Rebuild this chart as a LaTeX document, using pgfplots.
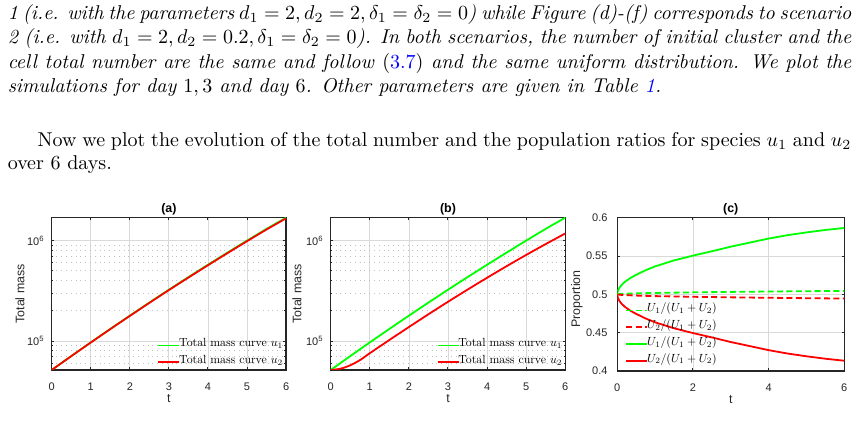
\documentclass[border=0pt]{standalone}
\usepackage{fontspec}
\usepackage{xcolor}
\usepackage{graphicx}
\usepackage{pgfplots}
\pgfplotsset{compat=1.18}
\newfontfamily\arial{Liberation Sans}
\definecolor{mg}{rgb}{0,1,0}
\definecolor{mr}{rgb}{1,0,0}
\definecolor{axc}{rgb}{0.15,0.15,0.15}

\pgfplotstableread{
t v
0 51640
0.5 70958
1 97051
1.5 132130
2 179061
2.5 241546
3 324340
3.5 432514
4 574116
4.5 758578
5 997700
5.5 1306171
6 1686553
}\greenA
\pgfplotstableread{
t v
0 51640
0.5 70866
1 96789
1.5 131602
2 178112
2.5 239928
3 321745
3.5 428492
4 567973
4.5 749475
5 984431
5.5 1286970
6 1659568
}\redA
\pgfplotstableread{
t v
0 51640
0.25 53200
0.5 57500
0.75 64800
1 75858
1.5 102565
2 138038
2.5 184927
3 246037
3.5 325087
4 426580
4.5 555904
5 719449
5.5 922571
6 1174898
}\redB
\pgfplotstableread{
t v
0 0.5
0.005 0.5025
0.02 0.505
0.05 0.508
0.1 0.5115
0.2 0.5163
0.35 0.5215
0.5 0.5255
0.75 0.5315
1 0.5365
1.5 0.5443
2 0.5505
2.5 0.5562
3 0.5622
3.5 0.5675
4 0.5728
4.5 0.5772
5 0.5808
5.5 0.584
6 0.5866
}\greenC
\pgfplotstableread{
t v
0 0.5
0.005 0.4975
0.02 0.495
0.05 0.492
0.1 0.4885
0.2 0.4837
0.35 0.4785
0.5 0.4745
0.75 0.4685
1 0.4635
1.5 0.4557
2 0.4495
2.5 0.4438
3 0.4378
3.5 0.4325
4 0.4272
4.5 0.4228
5 0.4192
5.5 0.416
6 0.4134
}\redC
\pgfplotstableread{
t v
0 0.5
0.1 0.5006
0.5 0.5013
1 0.5018
2 0.5026
3 0.5032
4 0.5037
5 0.5041
6 0.5045
}\greenCd
\pgfplotstableread{
t v
0 0.5
0.1 0.4993
0.5 0.4984
1 0.4977
2 0.4968
3 0.4961
4 0.4955
5 0.4950
6 0.4945
}\redCd

\newcommand{\lgd}[1]{\raisebox{0pt}[2.9pt][0.8pt]{\scalebox{0.59}{#1}}}

\pgfplotsset{
  mat/.style={
    scale only axis,
    anchor=south west,
    axis line style={axc, line width=0.6pt},
    every tick/.style={axc, line width=0.5pt},
    major tick length=1.35pt,
    minor tick length=0.8pt,
    tick align=inside,
    ticklabel style={font=\arial\fontsize{5.5}{6}\selectfont, text=axc},
    /pgf/number format/assume math mode=true,
    xticklabel style={yshift=-2.8pt},
    label style={font=\arial\fontsize{6.2}{7}\selectfont, text=axc},
    title style={font=\arial\bfseries\fontsize{6.2}{7}\selectfont, at={(axis description cs:0.5,0.978)}, anchor=center},
    xlabel={t},
    xlabel style={at={(axis description cs:0.5,-0.187)}, anchor=center},
    grid=major,
    major grid style={black!15, line width=0.4pt},
    minor grid style={black!25, dotted, line width=0.4pt},
    xmin=0, xmax=6,
    legend style={draw=none, fill=none, inner sep=0pt},
    legend cell align=left,
    legend image code/.code={\path (0pt,0pt) -- (8pt,0pt); \draw[overlay,##1] (0pt,0pt) -- (10.5pt,0pt);},
  },
  logm/.style={
    mat, ymin=51640, ymax=1686553,
    width=117.2pt, height=76.15pt,
    xtick={0,1,2,3,4,5,6},
    ytick={1e5,1e6}, yticklabels={10\textsuperscript{5},10\textsuperscript{6}},
    minor ytick={6e4,7e4,8e4,9e4,2e5,3e5,4e5,5e5,6e5,7e5,8e5,9e5},
    yminorgrids=true,
    ylabel={Total mass},
    legend style={at={(axis description cs:1.005,-0.007)}, anchor=south east},
  },
  pl/.style={line width=0.9pt},
}

\begin{document}
\begin{tikzpicture}
\useasboundingbox (0,0) rectangle (429pt,-224pt);
\begin{scope}[every node/.style={anchor=base west, inner sep=0pt, font=\fontsize{10}{12}\selectfont}]
\node[font=\fontsize{10}{12}\selectfont\itshape] at (3.7pt,-10pt) {\makebox[421.8pt][s]{1 (i.e. with the parameters $d_1 = 2, d_2 = 2, \delta_1 = \delta_2 = 0$) while Figure (d)-(f) corresponds to scenario}};
\node[font=\fontsize{10}{12}\selectfont\itshape] at (3.7pt,-22pt) {\makebox[421.8pt][s]{2 (i.e. with $d_1 = 2, d_2 = 0.2, \delta_1 = \delta_2 = 0$). In both scenarios, the number of initial cluster and the}};
\node[font=\fontsize{10}{12}\selectfont\itshape] at (3.7pt,-34.15pt) {\makebox[421.8pt][s]{cell total number are the same and follow \textup{(}\textcolor{blue}{\textup{3.7}}\textup{)} and the same uniform distribution. We plot the}};
\node[font=\fontsize{10}{12}\selectfont\itshape] at (3.7pt,-46.15pt) {simulations for day $1,3$ and day $6$. Other parameters are given in Table \textcolor{blue}{1}.};
\node at (18.65pt,-73.35pt) {\makebox[406.85pt][s]{Now we plot the evolution of the total number and the population ratios for species $u_1$ and $u_2$}};
\node at (3.7pt,-85pt) {over 6 days.};
\end{scope}

\begin{axis}[ymode=log, logm, at={(25.85pt,-185pt)}, title={(a)},
  ylabel style={at={(axis description cs:-0.135,0.5)}, anchor=center}]
\addplot[pl, mg, smooth] table[x=t,y=v] {\greenA};
\addplot[pl, mr, smooth] table[x=t,y=v] {\redA};
\legend{\lgd{Total mass curve $u_1$}, \lgd{Total mass curve $u_2$}}
\end{axis}

\begin{axis}[ymode=log, logm, at={(165.35pt,-185pt)}, width=117.3pt, title={(b)},
  ylabel style={at={(axis description cs:-0.1437,0.5)}, anchor=center}]
\addplot[pl, mg, smooth] table[x=t,y=v] {\greenA};
\addplot[pl, mr, smooth] table[x=t,y=v] {\redB};
\legend{\lgd{Total mass curve $u_1$}, \lgd{Total mass curve $u_2$}}
\end{axis}

\begin{axis}[mat, at={(308.65pt,-185.5pt)}, width=113.5pt, height=76.65pt, title={(c)},
  ymin=0.4, ymax=0.6, xtick={0,2,4,6},
  ytick={0.4,0.45,0.5,0.55,0.6}, yticklabels={0.4,0.45,0.5,0.55,0.6},
  yticklabel style={xshift=-1.4pt},
  ylabel={Proportion},
  ylabel style={at={(axis description cs:-0.1775,0.47)}, anchor=center},
  legend style={at={(axis description cs:0.034,0.009)}, anchor=south west}]
\addplot[pl, mg, dash pattern=on 3pt off 1.7pt] table[x=t,y=v] {\greenCd};
\addplot[pl, mr, dash pattern=on 3pt off 1.7pt] table[x=t,y=v] {\redCd};
\addplot[pl, mg] table[x=t,y=v] {\greenC};
\addplot[pl, mr] table[x=t,y=v] {\redC};
\legend{\lgd{$U_1/(U_1+U_2)$}, \lgd{$U_2/(U_1+U_2)$}, \lgd{$U_1/(U_1+U_2)$}, \lgd{$U_2/(U_1+U_2)$}}
\end{axis}
\end{tikzpicture}
\end{document}
